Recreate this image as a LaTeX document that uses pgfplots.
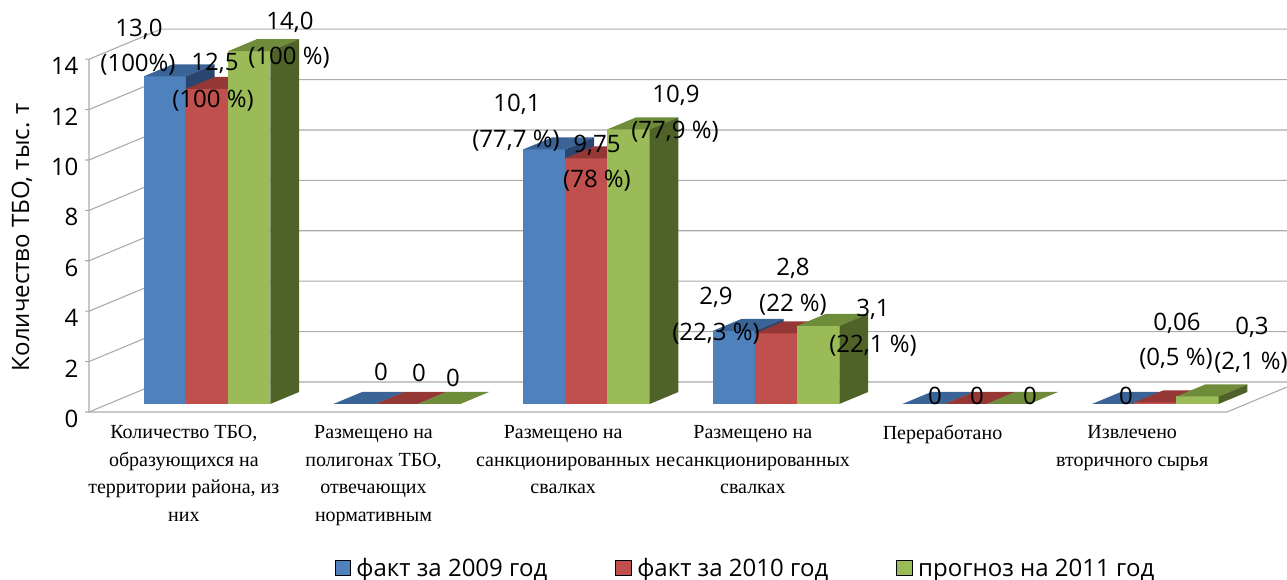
\documentclass[border=0pt]{standalone}
\usepackage{fontspec}
\usepackage{pgfplots}
\pgfplotsset{compat=1.18}
\setmainfont{Open Sans}
\newfontfamily\catfont{Liberation Serif}
\definecolor{bf}{HTML}{4F81BD}\definecolor{bt}{HTML}{3A6496}\definecolor{bs}{HTML}{28466F}
\definecolor{rf}{HTML}{C0504D}\definecolor{rt}{HTML}{953735}\definecolor{rs}{HTML}{772C2A}
\definecolor{gf}{HTML}{9BBB59}\definecolor{gt}{HTML}{6F8C3A}\definecolor{gs}{HTML}{4F6228}
\definecolor{gridc}{HTML}{ABABAB}
% one 3D bar: x0, x1, value, colour prefix
\newcommand\onebar[4]{%
 \addplot3[forget plot,draw=none,fill=#4f] coordinates {(#1,0.267,0) (#2,0.267,0) (#2,0.267,#3) (#1,0.267,#3)} -- cycle;
 \addplot3[forget plot,draw=none,fill=#4t] coordinates {(#1,0.267,#3) (#2,0.267,#3) (#2,0.667,#3) (#1,0.667,#3)} -- cycle;
 \addplot3[forget plot,draw=none,fill=#4s] coordinates {(#2,0.267,0) (#2,0.667,0) (#2,0.667,#3) (#2,0.267,#3)} -- cycle;
}
\newcommand\wallline[1]{%
 \addplot3[forget plot,no markers,color=gridc,line width=1.1pt] coordinates {(-0.02,0,#1) (0,0,#1) (0,1,#1) (5.937,1,#1)};
}
\newcommand\lbl[3]{\node[font=\fontsize{24}{28}\selectfont,inner sep=0pt] at (#1pt,580pt-#2pt) {#3};}
\begin{document}
\begin{tikzpicture}[x=1pt,y=1pt]
\path[use as bounding box] (0,0) rectangle (1287pt,580pt);
\begin{axis}[
  at={(89pt,168pt)},anchor=origin,
  x={(189.67pt,0pt)},y={(72pt,30pt)},z={(0pt,25.2pt)},
  xmin=0,xmax=6,ymin=0,ymax=1,zmin=0,zmax=14,
  clip=false,
  axis line style={draw=none},
  major tick length=0pt,
  ytick=\empty,
  ztick={0,2,4,6,8,10,12,14},
  xtick={0.5,1.5,2.5,3.5,4.5,5.5},
  xticklabels={{Количество ТБО,\\образующихся на\\территории района, из\\них},
    {Размещено на\\полигонах ТБО,\\отвечающих\\нормативным},
    {Размещено на\\санкционированных\\свалках},
    {Размещено на\\несанкционированных\\свалках},
    {Переработано},
    {Извлечено\\вторичного сырья}},
  xticklabel style={font=\catfont\fontsize{20}{27.5}\selectfont,align=center,anchor=north,yshift=-10pt},
  zticklabel style={font=\fontsize{24}{28}\selectfont,anchor=east,yshift=-7pt,xshift=-7pt},
  /pgf/number format/assume math mode=true,
  zlabel={Количество ТБО, тыс. т},
  every axis z label/.style={at={(axis description cs:-0.0554,0.457)},rotate=90,anchor=center,font=\fontsize{24}{28}\selectfont},
  legend columns=3,
  legend style={draw=none,fill=none,at={(axis description cs:0.5425,-0.408)},anchor=center,font=\fontsize{24}{28}\selectfont,
    /tikz/every even column/.append style={column sep=66pt},
    /tikz/every odd column/.append style={column sep=4pt}},
  legend image code/.code={\fill[#1] (0pt,-7.5pt) rectangle (15.5pt,7.5pt);},
]
\addlegendimage{fill=bf}\addlegendentry{факт за 2009 год}
\addlegendimage{fill=rf}\addlegendentry{факт за 2010 год}
\addlegendimage{fill=gf}\addlegendentry{прогноз на 2011 год}
\wallline{0}\wallline{2}\wallline{4}\wallline{6}\wallline{8}\wallline{10}\wallline{12}\wallline{14}
\addplot3[forget plot,no markers,color=gridc,line width=1.1pt] coordinates {(0,0,14) (0,0,0) (6,0,0) (6,0.83,0)};
% group 1
\onebar{0.187}{0.4095}{13}{b}\onebar{0.4095}{0.632}{12.5}{r}\onebar{0.632}{0.8545}{14}{g}
% group 2
\onebar{1.187}{1.4095}{0}{b}\onebar{1.4095}{1.632}{0}{r}\onebar{1.632}{1.8545}{0}{g}
% group 3
\onebar{2.187}{2.4095}{10.1}{b}\onebar{2.4095}{2.632}{9.75}{r}\onebar{2.632}{2.8545}{10.9}{g}
% group 4
\onebar{3.187}{3.4095}{2.9}{b}\onebar{3.4095}{3.632}{2.8}{r}\onebar{3.632}{3.8545}{3.1}{g}
% group 5
\onebar{4.187}{4.4095}{0}{b}\onebar{4.4095}{4.632}{0}{r}\onebar{4.632}{4.8545}{0}{g}
% group 6
\onebar{5.187}{5.4095}{0}{b}\onebar{5.4095}{5.632}{0.06}{r}\onebar{5.632}{5.8545}{0.3}{g}
\end{axis}
\lbl{139}{29}{13,0}\lbl{138}{65}{(100\%)}
\lbl{215}{63}{12,5}\lbl{213}{101}{(100 \%)}
\lbl{290}{22}{14,0}\lbl{289}{58}{(100 \%)}
\lbl{517}{104}{10,1}\lbl{516}{141}{(77,7 \%)}
\lbl{597}{145}{9,75}\lbl{597}{181}{(78 \%)}
\lbl{676}{95}{10,9}\lbl{675}{132}{(77,9 \%)}
\lbl{716}{297}{2,9}\lbl{716}{334}{(22,3 \%)}
\lbl{793}{268}{2,8}\lbl{793}{305}{(22 \%)}
\lbl{873}{309}{3,1}\lbl{873}{346}{(22,1 \%)}
\lbl{381}{372}{0}\lbl{419}{373}{0}\lbl{453}{378}{0}
\lbl{935}{396}{0}\lbl{977}{396}{0}\lbl{1030}{396}{0}
\lbl{1126}{396}{0}
\lbl{1177}{323}{0,06}\lbl{1176}{359}{(0,5 \%)}
\lbl{1252}{327}{0,3}\lbl{1251}{363}{(2,1 \%)}
\end{tikzpicture}
\end{document}
